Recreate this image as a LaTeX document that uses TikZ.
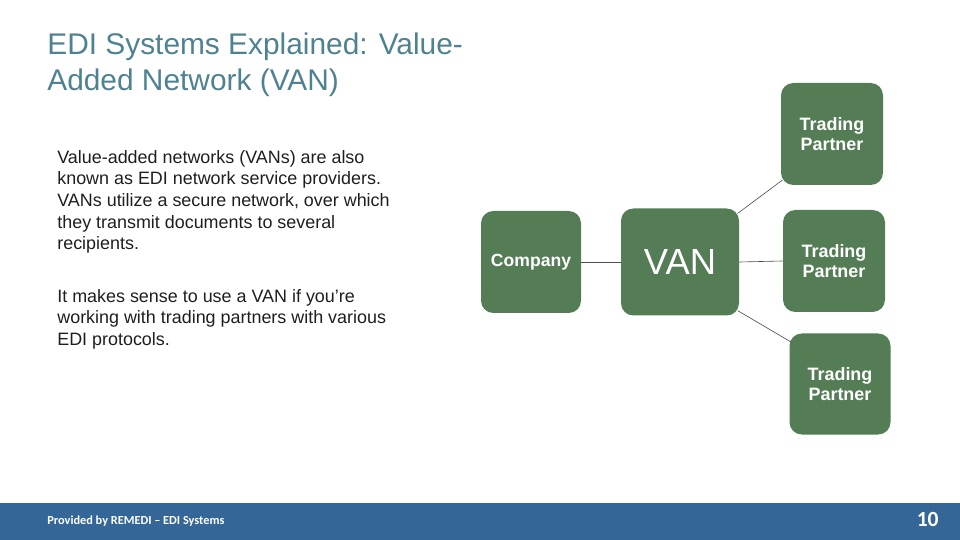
\documentclass[tikz,border=0pt]{standalone}
\usepackage{fontspec}
\setmainfont{Liberation Sans}
\newfontfamily\footfont{Carlito}

\definecolor{boxgreen}{RGB}{84,125,86}
\definecolor{titleteal}{RGB}{79,130,144}
\definecolor{barblue}{RGB}{52,103,152}
\definecolor{bodygray}{RGB}{30,30,30}

\begin{document}
\begin{tikzpicture}[
    x=0.02cm, y=-0.02cm,
    every node/.style={inner sep=0pt},
    netbox/.style={fill=boxgreen, rounded corners=7pt, text=white,
        align=center, font=\fontsize{10.2}{11.2}\selectfont\bfseries},
    link/.style={draw=black!70, line width=0.35pt}
]

% Canvas
\useasboundingbox (0,0) rectangle (960,540);

% === Title ===
\node[anchor=north west, align=left, text=titleteal,
      font=\fontsize{17}{20.3}\selectfont] (title) at (47,33)
    {EDI Systems Explained: Value-\\Added Network (VAN)};

% === Body text ===
\node[anchor=north west, align=left, text=bodygray,
      font=\fontsize{10.2}{12.3}\selectfont] (para1) at (57,150)
    {Value-added networks (VANs) are also\\
     known as EDI network service providers.\\
     VANs utilize a secure network, over which\\
     they transmit documents to several\\
     recipients.};
\node[anchor=north west, align=left, text=bodygray,
      font=\fontsize{10.2}{12.3}\selectfont] (para2) at (57,289)
    {It makes sense to use a VAN if you’re\\
     working with trading partners with various\\
     EDI protocols.};

% === Network boxes ===
\node[netbox, minimum width=100*0.02cm, minimum height=102*0.02cm,
      font=\fontsize{10}{11}\selectfont\bfseries] (company) at (531,262) {Company};
\node[netbox, minimum width=118*0.02cm, minimum height=107*0.02cm,
      font=\fontsize{20.7}{22}\selectfont] (van) at (680,262) {VAN};
\node[netbox, minimum width=102*0.02cm, minimum height=102*0.02cm] (tp1) at (832,134) {Trading\\Partner};
\node[netbox, minimum width=102*0.02cm, minimum height=102*0.02cm] (tp2) at (834,261) {Trading\\Partner};
\node[netbox, minimum width=101*0.02cm, minimum height=101*0.02cm] (tp3) at (840,384) {Trading\\Partner};

% === Links ===
\draw[link] (company.east) -- (van.west);
\draw[link] ([xshift=-1pt,yshift=-3pt]van.north east) -- ([xshift=1pt,yshift=3pt]tp1.south west);
\draw[link] (van.east) -- (tp2.west);
\draw[link] ([xshift=-1pt,yshift=3pt]van.south east) -- ([xshift=1pt,yshift=-5pt]tp3.north west);

% === Footer bar ===
\fill[barblue] (0,503) rectangle (960,540);
\node[anchor=west, text=white, font=\footfont\fontsize{7}{8}\selectfont\bfseries] (credit) at (47,521)
    {Provided by REMEDI – EDI Systems};
\node[anchor=east, text=white, font=\footfont\fontsize{12.3}{13}\selectfont\bfseries] (pagenum) at (939,519) {10};

\end{tikzpicture}
\end{document}
